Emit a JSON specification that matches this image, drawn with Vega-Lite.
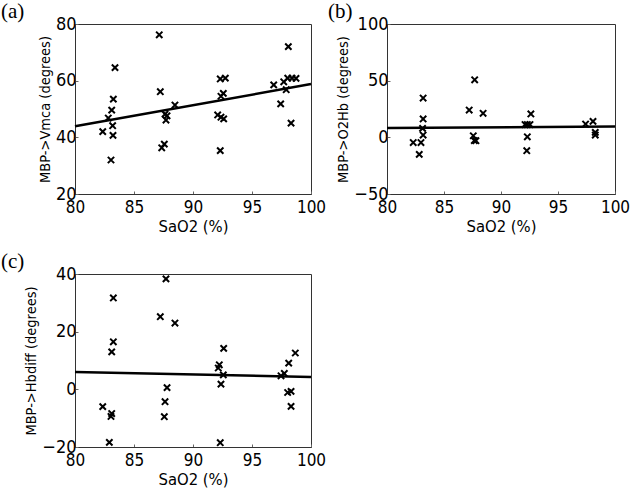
{
  "$schema": "https://vega.github.io/schema/vega-lite/v6.json",
  "background": "white",
  "padding": {"left": 0, "top": 0, "right": 0, "bottom": 0},
  "spacing": 15,
  "datasets": {
    "a_pts": [
      {"sao2": 87.14, "v": 76.2}, {"sao2": 83.39, "v": 64.6}, {"sao2": 87.23, "v": 56.1},
      {"sao2": 83.25, "v": 53.5}, {"sao2": 83.11, "v": 49.6}, {"sao2": 82.82, "v": 46.8},
      {"sao2": 83.19, "v": 44.1}, {"sao2": 83.22, "v": 40.7}, {"sao2": 82.35, "v": 42.0},
      {"sao2": 83.05, "v": 32.0}, {"sao2": 88.47, "v": 51.4}, {"sao2": 87.63, "v": 48.2},
      {"sao2": 87.8, "v": 47.6}, {"sao2": 87.71, "v": 46.1}, {"sao2": 87.57, "v": 37.6},
      {"sao2": 87.35, "v": 36.3}, {"sao2": 92.31, "v": 60.6}, {"sao2": 92.74, "v": 60.9},
      {"sao2": 92.57, "v": 55.5}, {"sao2": 92.37, "v": 54.5}, {"sao2": 92.09, "v": 47.9},
      {"sao2": 92.37, "v": 47.1}, {"sao2": 92.6, "v": 46.5}, {"sao2": 92.31, "v": 35.3},
      {"sao2": 96.84, "v": 58.5}, {"sao2": 97.69, "v": 59.6}, {"sao2": 98.03, "v": 60.9},
      {"sao2": 98.39, "v": 60.9}, {"sao2": 98.73, "v": 60.8}, {"sao2": 97.9, "v": 56.8},
      {"sao2": 97.43, "v": 51.8}, {"sao2": 98.31, "v": 45.0}, {"sao2": 98.08, "v": 72.0}
    ],
    "a_line": [{"sao2": 80, "v": 43.9}, {"sao2": 100, "v": 58.8}],
    "b_pts": [
      {"sao2": 87.69, "v": 50.8}, {"sao2": 83.17, "v": 34.7}, {"sao2": 87.21, "v": 24.1},
      {"sao2": 88.43, "v": 21.2}, {"sao2": 83.17, "v": 16.2}, {"sao2": 83.12, "v": 7.9},
      {"sao2": 83.17, "v": 2.0}, {"sao2": 82.3, "v": -4.6}, {"sao2": 82.98, "v": -4.6},
      {"sao2": 82.83, "v": -15.0}, {"sao2": 87.57, "v": 1.4}, {"sao2": 87.66, "v": -2.8},
      {"sao2": 87.8, "v": -3.0}, {"sao2": 92.62, "v": 20.6}, {"sao2": 92.11, "v": 11.3},
      {"sao2": 92.31, "v": 11.3}, {"sao2": 92.54, "v": 11.3}, {"sao2": 92.31, "v": 0.5},
      {"sao2": 92.26, "v": -11.8}, {"sao2": 97.42, "v": 11.7}, {"sao2": 98.07, "v": 14.1},
      {"sao2": 98.27, "v": 4.4}, {"sao2": 98.27, "v": 2.0}
    ],
    "b_line": [{"sao2": 80, "v": 8.2}, {"sao2": 100, "v": 9.6}],
    "c_pts": [
      {"sao2": 87.71, "v": 38.3}, {"sao2": 83.25, "v": 31.7}, {"sao2": 87.23, "v": 25.2},
      {"sao2": 88.47, "v": 23.0}, {"sao2": 83.25, "v": 16.5}, {"sao2": 83.11, "v": 13.0},
      {"sao2": 87.8, "v": 0.6}, {"sao2": 82.35, "v": -6.0}, {"sao2": 83.11, "v": -8.4},
      {"sao2": 83.05, "v": -9.4}, {"sao2": 87.63, "v": -4.3}, {"sao2": 87.57, "v": -9.5},
      {"sao2": 82.91, "v": -18.4}, {"sao2": 92.6, "v": 14.2}, {"sao2": 92.23, "v": 8.5},
      {"sao2": 92.14, "v": 7.4}, {"sao2": 92.57, "v": 5.0}, {"sao2": 92.37, "v": 1.8},
      {"sao2": 92.31, "v": -18.5}, {"sao2": 97.46, "v": 4.7}, {"sao2": 97.74, "v": 5.5},
      {"sao2": 98.67, "v": 12.6}, {"sao2": 98.11, "v": 9.1}, {"sao2": 98.02, "v": -1.1},
      {"sao2": 98.31, "v": -0.7}, {"sao2": 98.31, "v": -5.9}
    ],
    "c_line": [{"sao2": 80, "v": 6.0}, {"sao2": 100, "v": 4.3}]
  },
  "config": {
    "view": {"stroke": "#333", "strokeWidth": 1},
    "axis": {
      "labelFont": "DejaVu Sans Condensed", "labelFontSize": 18, "labelColor": "black", "labelFlush": false,
      "titleFont": "DejaVu Sans Condensed", "titleFontSize": 14.5, "titleFontWeight": "normal", "titleColor": "black",
      "domainColor": "#333", "tickColor": "#666", "tickSize": -3, "grid": false, "labelPadding": 2, "titlePadding": 3
    },
    "axisX": {"labelFontSize": 17, "labelPadding": 8, "titleFontSize": 16.5, "titlePadding": 3},
    "title": {"font": "Liberation Serif", "fontSize": 21, "fontWeight": "normal", "color": "black", "anchor": "start", "frame": "group", "offset": -7}
  },
  "vconcat": [
    {
      "hconcat": [
        {
          "width": 236, "height": 170,
          "title": {"text": "(a)", "dx": -74},
          "layer": [
            {
              "data": {"name": "a_line"},
              "mark": {"type": "line", "color": "black", "strokeWidth": 2.5},
              "encoding": {
                "x": {"field": "sao2", "type": "quantitative", "scale": {"domain": [80, 100], "nice": false}, "axis": {"values": [80, 85, 90, 95, 100], "title": "SaO2 (%)"}},
                "y": {"field": "v", "type": "quantitative", "scale": {"domain": [20, 80], "nice": false}, "axis": {"values": [20, 40, 60, 80], "title": "MBP->Vmca (degrees)"}}
              }
            },
            {
              "data": {"name": "a_pts"},
              "mark": {"type": "point", "shape": "M-1,-1L1,1M-1,1L1,-1", "filled": false, "color": "black", "strokeWidth": 2, "size": 40, "opacity": 1},
              "encoding": {
                "x": {"field": "sao2", "type": "quantitative"},
                "y": {"field": "v", "type": "quantitative"}
              }
            }
          ]
        },
        {
          "width": 228, "height": 170,
          "title": {"text": "(b)", "dx": -59},
          "layer": [
            {
              "data": {"name": "b_line"},
              "mark": {"type": "line", "color": "black", "strokeWidth": 2.5},
              "encoding": {
                "x": {"field": "sao2", "type": "quantitative", "scale": {"domain": [80, 100], "nice": false}, "axis": {"values": [80, 85, 90, 95, 100], "title": "SaO2 (%)"}},
                "y": {"field": "v", "type": "quantitative", "scale": {"domain": [-50, 100], "nice": false}, "axis": {"values": [-50, 0, 50, 100], "title": "MBP->O2Hb (degrees)"}}
              }
            },
            {
              "data": {"name": "b_pts"},
              "mark": {"type": "point", "shape": "M-1,-1L1,1M-1,1L1,-1", "filled": false, "color": "black", "strokeWidth": 2, "size": 40, "opacity": 1},
              "encoding": {
                "x": {"field": "sao2", "type": "quantitative"},
                "y": {"field": "v", "type": "quantitative"}
              }
            }
          ]
        }
      ],
      "spacing": 0
    },
    {
      "width": 236, "height": 173,
      "title": {"text": "(c)", "dx": -74},
      "layer": [
        {
          "data": {"name": "c_line"},
          "mark": {"type": "line", "color": "black", "strokeWidth": 2.5},
          "encoding": {
            "x": {"field": "sao2", "type": "quantitative", "scale": {"domain": [80, 100], "nice": false}, "axis": {"values": [80, 85, 90, 95, 100], "title": "SaO2 (%)"}},
            "y": {"field": "v", "type": "quantitative", "scale": {"domain": [-20, 40], "nice": false}, "axis": {"values": [-20, 0, 20, 40], "title": "MBP->Hbdiff (degrees)"}}
          }
        },
        {
          "data": {"name": "c_pts"},
          "mark": {"type": "point", "shape": "M-1,-1L1,1M-1,1L1,-1", "filled": false, "color": "black", "strokeWidth": 2, "size": 40, "opacity": 1},
          "encoding": {
            "x": {"field": "sao2", "type": "quantitative"},
            "y": {"field": "v", "type": "quantitative"}
          }
        }
      ]
    }
  ]
}
